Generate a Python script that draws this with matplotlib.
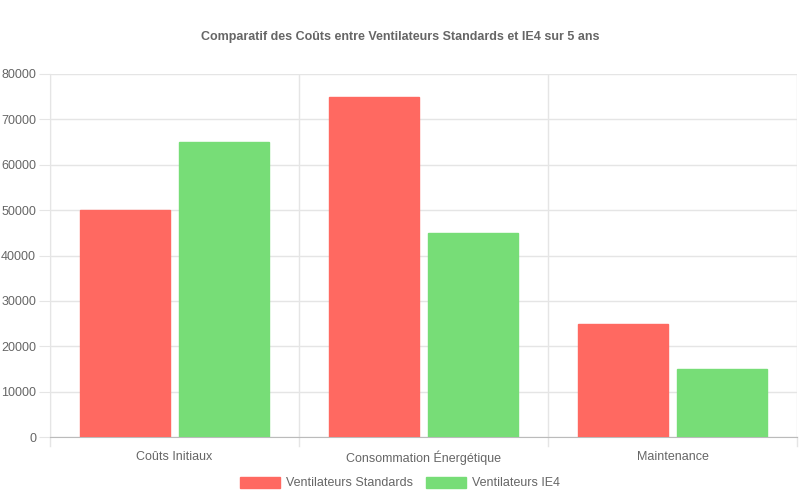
import matplotlib
matplotlib.use("Agg")
import matplotlib.pyplot as plt
import numpy as np

plt.rcParams["font.family"] = ["Liberation Sans", "DejaVu Sans"]

categories = ["Coûts Initiaux", "Consommation Énergétique", "Maintenance"]
standard = [50000, 75000, 25000]
ie4 = [65000, 45000, 15000]
series_names = ["Ventilateurs Standards", "Ventilateurs IE4"]
RED = "#FF6961"
GREEN = "#77DD77"
TXT = "#666666"
GRID = "#E5E5E5"

fig = plt.figure(figsize=(8, 5), dpi=100)
ax = fig.add_axes([50 / 800, 1 - 437 / 500, 747 / 800, 363 / 500])

x = np.arange(len(categories))
w = 0.36
ax.bar(x - 0.2, standard, w, color=RED, edgecolor=RED, linewidth=1, label=series_names[0], zorder=3)
ax.bar(x + 0.2, ie4, w, color=GREEN, edgecolor=GREEN, linewidth=1, label=series_names[1], zorder=3)

ax.set_xlim(-0.5, len(categories) - 0.5)
ax.set_ylim(0, 80000)
ax.set_yticks(np.arange(0, 80001, 10000))
ax.set_xticks(x)
ax.set_xticklabels(categories)
ax.tick_params(axis="x", length=0, colors=TXT, labelsize=9, pad=10)
ax.tick_params(axis="y", length=8, color=GRID, colors=TXT, labelsize=9, pad=2)
ax.yaxis.grid(True, color=GRID, linewidth=1, zorder=0)
for b in np.arange(-0.5, len(categories), 1.0):
    ax.axvline(b, color=GRID, linewidth=1, zorder=0)
    ax.plot([b, b], [0, -0.025], transform=ax.get_xaxis_transform(), color=GRID, lw=1, clip_on=False)
for s in ["top", "right"]:
    ax.spines[s].set_visible(False)
ax.spines["left"].set_color(GRID)
ax.spines["bottom"].set_color("#BBBBBB")

fig.text(0.5, 1 - 37 / 500, "Comparatif des Coûts entre Ventilateurs Standards et IE4 sur 5 ans",
         ha="center", va="center", fontsize=9, fontweight="bold", color=TXT)
fig.legend(loc="center", bbox_to_anchor=(0.5, 1 - 483 / 500), ncol=2, frameon=False,
           fontsize=9, labelcolor=TXT, handlelength=3.2, handleheight=1.0, columnspacing=1.0,
           handletextpad=0.5)

fig.savefig("out.png", dpi=100)
